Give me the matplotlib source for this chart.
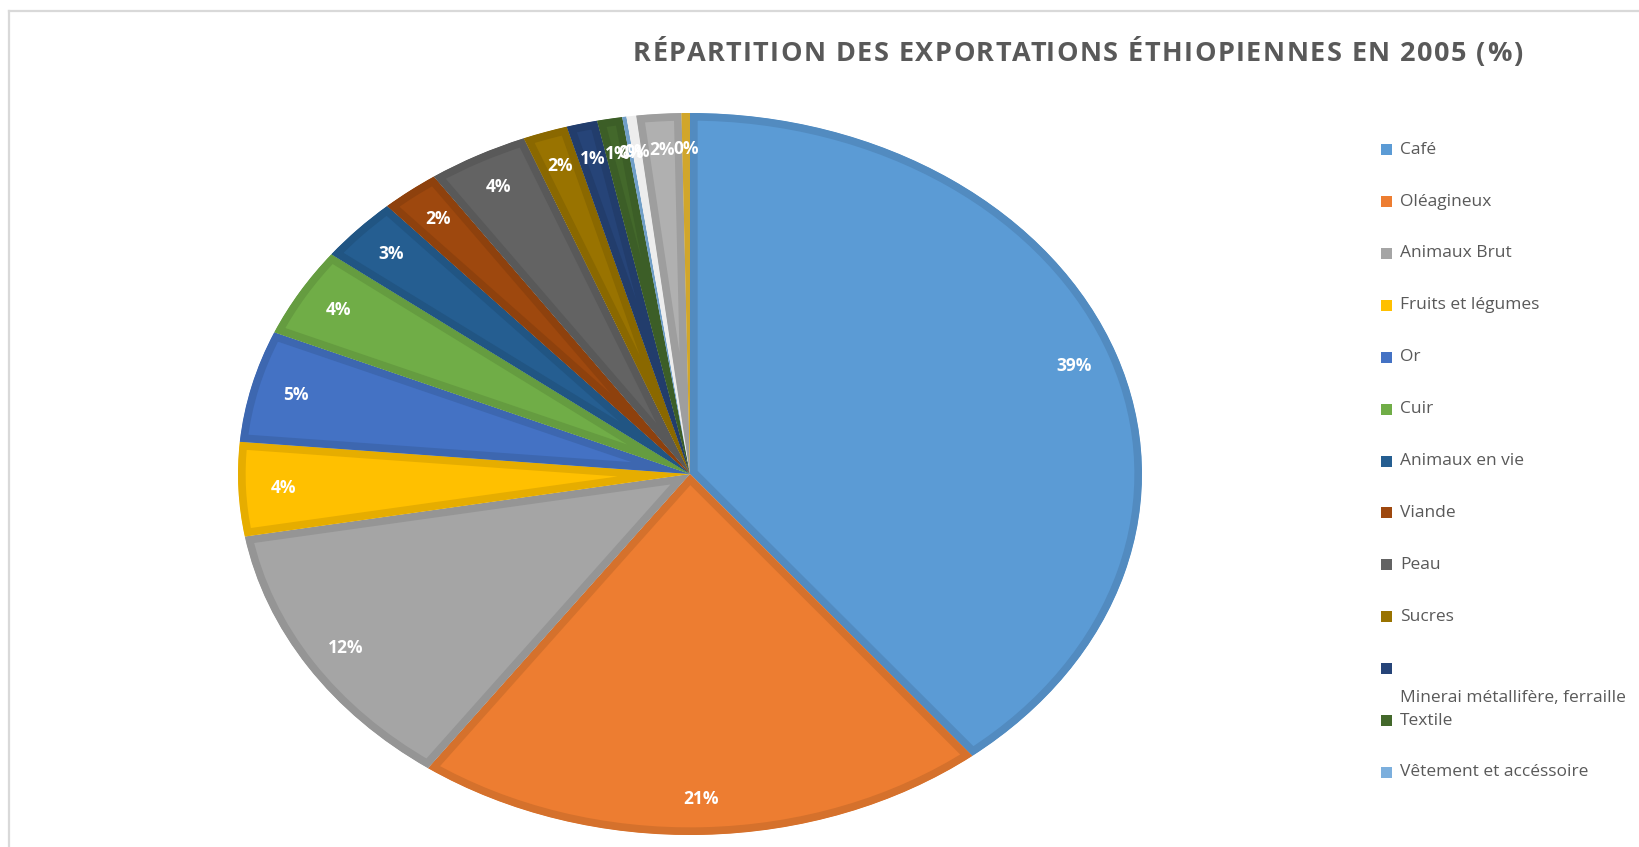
import matplotlib.pyplot as plt
import matplotlib.colors as mcolors
from matplotlib.lines import Line2D
from matplotlib.patches import Rectangle

# data (share of exports, %)
categories = ["Café", "Oléagineux", "Animaux Brut", "Fruits et légumes", "Or", "Cuir",
              "Animaux en vie", "Viande", "Peau", "Sucres",
              "Minerai métallifère, ferraille", "Textile", "Vêtement et accéssoire"]
values = [39.3, 20.6, 12.4, 4.2, 5.0, 4.0, 2.9, 2.1, 3.6, 1.6, 1.1, 0.9, 0.15]
# slices whose legend entries are cut off in the original
other_values = [0.35, 1.6, 0.3]

colors = ["#5B9BD5", "#ED7D31", "#A5A5A5", "#FFC000", "#4472C4", "#70AD47",
          "#255E91", "#9E480E", "#636363", "#997300", "#264478", "#43682B", "#7CAFDD"]
other_colors = ["#FFFFFF", "#B0B0B0", "#E8B830"]

title = "RÉPARTITION DES EXPORTATIONS ÉTHIOPIENNES EN 2005 (%)"
grey = "#595959"

W, H = 1640, 847
fig = plt.figure(figsize=(W / 100, H / 100), dpi=100)

# chart frame (only top and left edges are visible)
fig.add_artist(Line2D([9 / W, 1], [1 - 11 / H] * 2, color="#D9D9D9", lw=1.6))
fig.add_artist(Line2D([9 / W] * 2, [0, 1 - 11 / H], color="#D9D9D9", lw=1.6))

# elliptical pie: center (690, 474), radii 452 x 361 px
cx, cy, rx, ry = 690, 474, 452, 361
ax = fig.add_axes([(cx - rx) / W, (H - cy - ry) / H, 2 * rx / W, 2 * ry / H])

all_vals = values + other_values
all_cols = colors + other_colors
wedges, texts, autotexts = ax.pie(
    all_vals, colors=all_cols, startangle=90, counterclock=False,
    autopct=lambda p: f"{p:.0f}%", pctdistance=0.9,
    textprops=dict(color="white", fontsize=12.5, fontweight="bold", family="Open Sans"))
for w, c in zip(wedges, all_cols):
    rgb = mcolors.to_rgb(c)
    edge = tuple(v * 0.9 for v in rgb) if c != "#FFFFFF" else (0.93, 0.93, 0.93)
    w.set_edgecolor(edge)
    w.set_linewidth(11)
    w.set_joinstyle("round")
    w.set_clip_on(True)
    w.set_clip_path(w)  # keep the border inside its own slice
ax.set_aspect("auto")
ax.set_xlim(-1, 1)
ax.set_ylim(-1, 1)

# title with letter spacing, spanning x = 633..1522 px
renderer = fig.canvas.get_renderer()
tkw = dict(fontsize=19.5, fontweight="bold", color=grey, family="Open Sans", va="center")
meas = fig.text(0, 0, "", **tkw)


def text_w(s):
    meas.set_text(s)
    return meas.get_window_extent(renderer).width if s else 0.0


x0, x1, ty = 633, 1522, 54
spacing = (x1 - x0 - text_w(title)) / (len(title) - 1)
for i, ch in enumerate(title):
    x = x0 + text_w(title[:i]) + i * spacing
    fig.text(x / W, 1 - ty / H, ch, ha="left", **tkw)
meas.remove()

# legend drawn by hand (Minerai text wraps below its marker in the original)
y0, dy = 149.6, 51.9
for i, (name, c) in enumerate(zip(categories, colors)):
    y = y0 + i * dy
    fig.add_artist(Rectangle((1381 / W, 1 - (y + 5.5) / H), 11 / W, 11 / H,
                             transform=fig.transFigure, color=c, lw=0))
    ly = y + 29 if name.startswith("Minerai") else y
    fig.text(1400 / W, 1 - ly / H, name, ha="left", va="center", fontsize=12.5,
             color=grey, family="Open Sans")

fig.savefig("out.png", dpi=100)
